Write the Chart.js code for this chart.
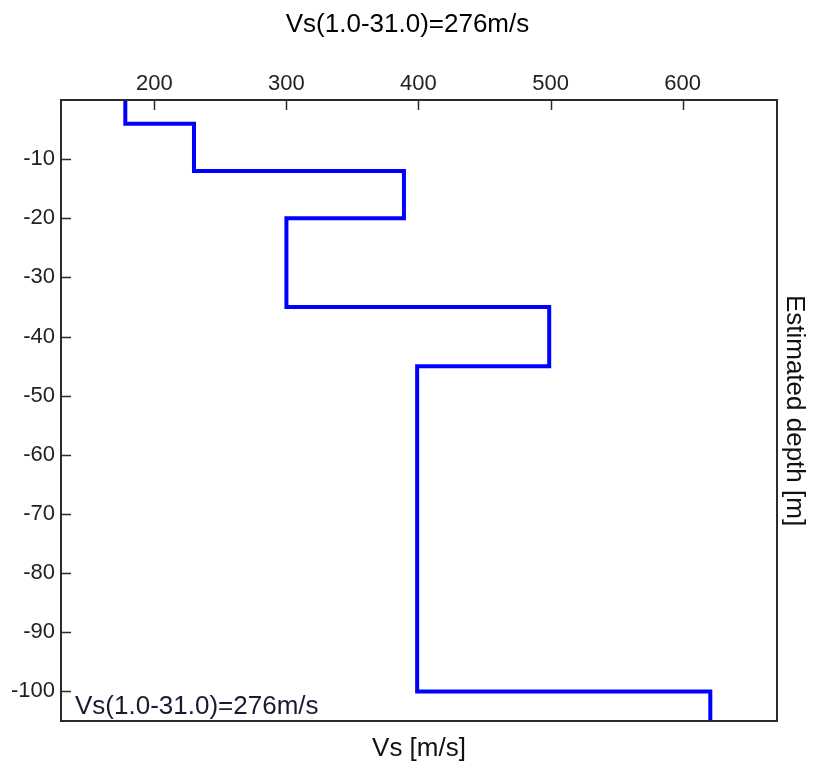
<!DOCTYPE html>
<html>
<head>
<meta charset="utf-8">
<script src="https://cdn.jsdelivr.net/npm/chart.js@4/dist/chart.umd.min.js"></script>
<style>
  html, body { margin: 0; padding: 0; background: #fff; }
  #wrap { width: 815px; height: 771px; }
</style>
</head>
<body>
<div id="wrap"><canvas id="vs-profile"></canvas></div>
<script>
// layer tops (m, negative downwards) and shear wave velocity of each layer
var layerTops = [0, -4, -12, -20, -35, -45, -100];
var layerVs = [178, 230, 389, 300, 499, 399, 621];
var profileBottom = -105;

var xTickValues = [200, 300, 400, 500, 600];
var yTickValues = [-10, -20, -30, -40, -50, -60, -70, -80, -90, -100];

var avgLabel = 'Vs(1.0-31.0)=276m/s';

// step profile: each layer is a vertical segment from its top to the next top
var profile = [];
for (var i = 0; i < layerVs.length; i++) {
    var bottom = i + 1 < layerTops.length ? layerTops[i + 1] : profileBottom;
    profile.push({ x: layerVs[i], y: layerTops[i] });
    profile.push({ x: layerVs[i], y: bottom });
}

function fixedTicks(values) {
    return function (scale) {
        scale.ticks = values.map(function (v) { return { value: v }; });
    };
}

var noGrid = { display: false, drawTicks: false };

// frame around the plot, inward tick marks, and the average label
var frameAndTicks = {
    id: 'frameAndTicks',
    afterDraw: function (chart) {
        var ctx = chart.ctx;
        var a = chart.chartArea;
        var xs = chart.scales.x, ys = chart.scales.y;
        ctx.save();
        ctx.strokeStyle = '#2b2b2b';
        ctx.lineWidth = 1.5;
        ctx.beginPath();
        xTickValues.forEach(function (v) {
            var px = Math.round(xs.getPixelForValue(v)) + 0.5;
            ctx.moveTo(px, a.top);
            ctx.lineTo(px, a.top + 10);
        });
        yTickValues.forEach(function (v) {
            var py = Math.round(ys.getPixelForValue(v)) + 0.5;
            ctx.moveTo(a.left, py);
            ctx.lineTo(a.left + 10, py);
        });
        ctx.stroke();
        ctx.lineWidth = 2;
        ctx.strokeRect(a.left, a.top, a.right - a.left, a.bottom - a.top);

        ctx.fillStyle = '#1a1a33';
        ctx.font = '26px "Liberation Sans", Arial, sans-serif';
        ctx.textBaseline = 'bottom';
        ctx.textAlign = 'left';
        ctx.fillText(avgLabel, a.left + 14, a.bottom - 1);
        ctx.restore();
    }
};

var ctx = document.getElementById('vs-profile').getContext('2d');
var chart = new Chart(ctx, {
    type: 'scatter',
    data: {
        datasets: [{
            data: profile,
            showLine: true,
            borderColor: '#0000ff',
            borderWidth: 4,
            pointRadius: 0,
            fill: false,
            borderJoinStyle: 'miter'
        }]
    },
    options: {
        responsive: true,
        maintainAspectRatio: false,
        animation: false,
        layout: { padding: 0 },
        plugins: {
            legend: { display: false },
            tooltip: { enabled: false },
            title: {
                display: true,
                text: avgLabel,
                color: '#000',
                font: { family: '"Liberation Sans Narrow", "Liberation Sans", Arial, sans-serif', size: 26, weight: 'normal' },
                padding: { top: 9, bottom: 0 }
            }
        },
        scales: {
            x: {
                type: 'linear',
                position: 'top',
                min: 129.3,
                max: 671.5,
                afterBuildTicks: fixedTicks(xTickValues),
                afterFit: function (s) { s.height = 59.8; },
                grid: noGrid,
                border: { display: false },
                ticks: {
                    color: '#222',
                    padding: 3,
                    maxRotation: 0,
                    font: { family: '"Liberation Sans", Arial, sans-serif', size: 22 }
                }
            },
            x2: {
                type: 'linear',
                position: 'bottom',
                min: 129.3,
                max: 671.5,
                afterFit: function (s) { s.height = 50; },
                grid: noGrid,
                border: { display: false },
                ticks: { display: false },
                title: {
                    display: true,
                    text: 'Vs [m/s]',
                    color: '#111',
                    font: { family: '"Liberation Sans", Arial, sans-serif', size: 26 },
                    padding: { top: 0, bottom: 7 }
                }
            },
            y: {
                type: 'linear',
                position: 'left',
                min: profileBottom,
                max: 0,
                afterBuildTicks: fixedTicks(yTickValues),
                afterFit: function (s) { s.width = 61; },
                grid: noGrid,
                border: { display: false },
                ticks: {
                    color: '#222',
                    padding: 6,
                    font: { family: '"Liberation Sans", Arial, sans-serif', size: 22 }
                }
            },
            y2: {
                type: 'linear',
                position: 'right',
                min: profileBottom,
                max: 0,
                afterFit: function (s) { s.width = 38; },
                grid: noGrid,
                border: { display: false },
                ticks: { display: false },
                title: {
                    display: true,
                    text: 'Estimated depth [m]',
                    color: '#111',
                    font: { family: '"Liberation Sans", Arial, sans-serif', size: 26 },
                    padding: { top: 5, bottom: 0 }
                }
            }
        }
    },
    plugins: [frameAndTicks]
});
</script>
</body>
</html>
